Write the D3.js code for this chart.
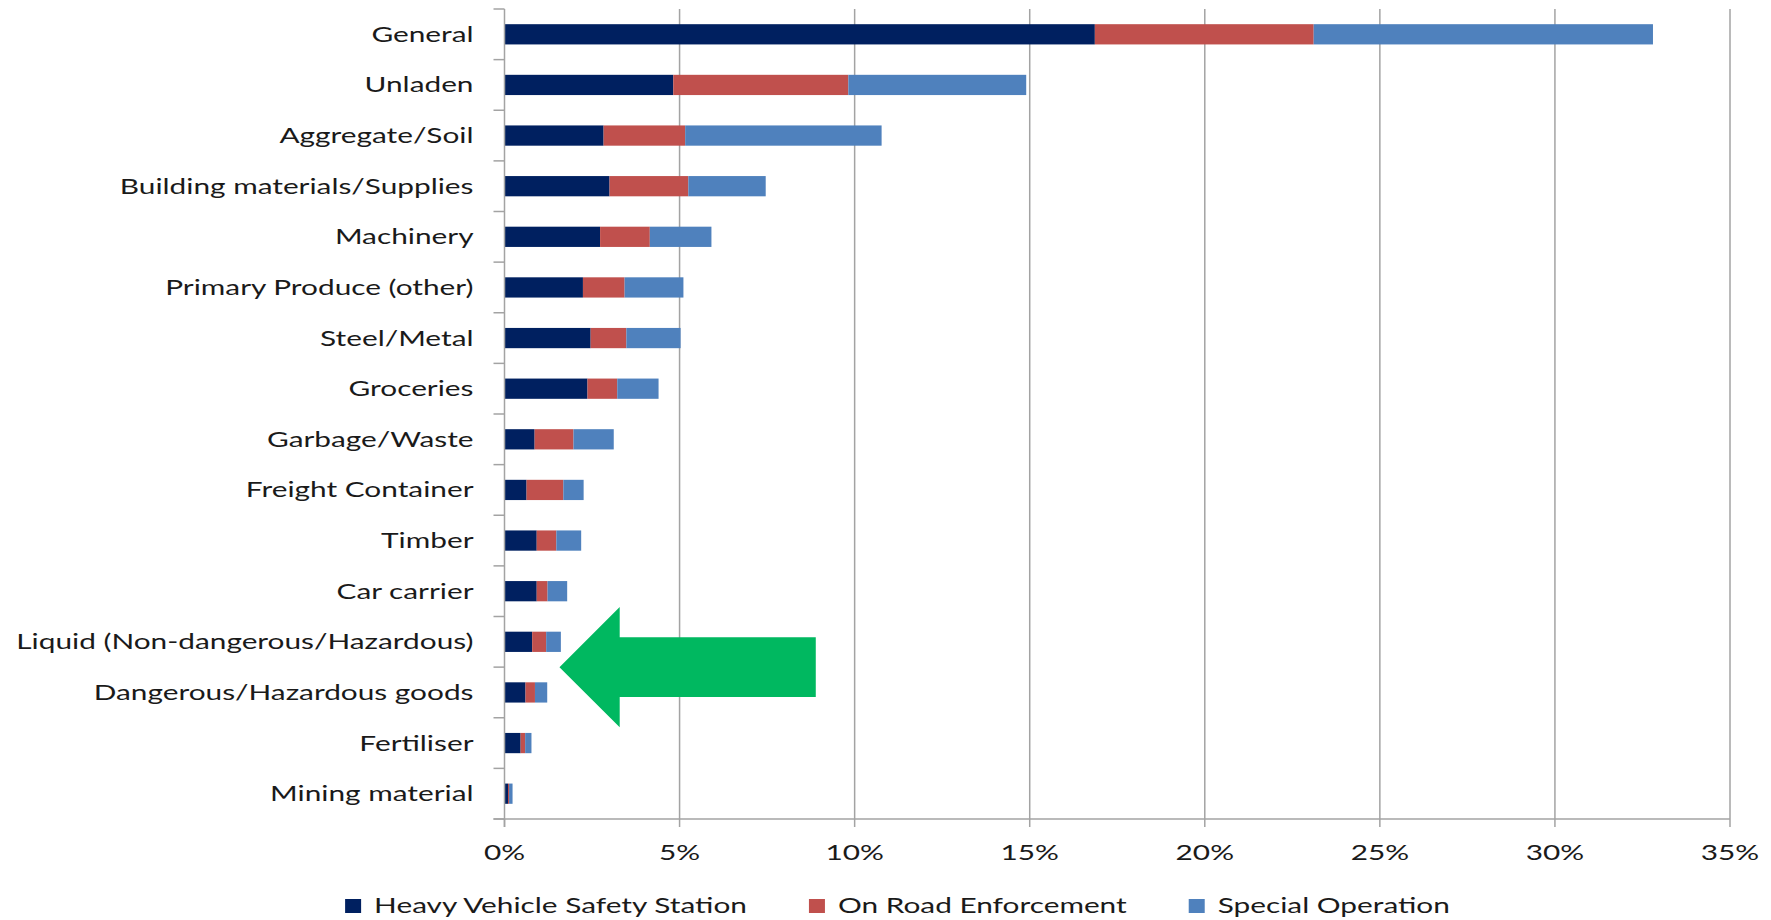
<!DOCTYPE html>
<html>
<head>
<meta charset="utf-8">
<script src="https://cdn.jsdelivr.net/npm/d3@7"></script>
<style>
  html, body { margin: 0; padding: 0; background: #ffffff; }
  svg { display: block; }
  text { font-family: Lato, "Open Sans", sans-serif; fill: #1a1a1a; }
</style>
</head>
<body>
<svg id="chart" width="1771" height="920"></svg>
<script>
// ---- data ----
const categories = [
  "General", "Unladen", "Aggregate/Soil", "Building materials/Supplies",
  "Machinery", "Primary Produce (other)", "Steel/Metal", "Groceries",
  "Garbage/Waste", "Freight Container", "Timber", "Car carrier",
  "Liquid (Non-dangerous/Hazardous)", "Dangerous/Hazardous goods",
  "Fertiliser", "Mining material"
];
const seriesNames = ["Heavy Vehicle Safety Station", "On Road Enforcement", "Special Operation"];
const heavyVehicleSafetyStation = [16.86, 4.82, 2.83, 3.00, 2.73, 2.24, 2.46, 2.37, 0.86, 0.63, 0.92, 0.92, 0.79, 0.60, 0.46, 0.10];
const onRoadEnforcement         = [ 6.25, 5.00, 2.33, 2.25, 1.42, 1.19, 1.02, 0.85, 1.11, 1.05, 0.56, 0.31, 0.40, 0.27, 0.13, 0.03];
const specialOperation          = [ 9.69, 5.08, 5.61, 2.21, 1.76, 1.68, 1.55, 1.18, 1.15, 0.58, 0.71, 0.56, 0.42, 0.35, 0.18, 0.10];
const xTickValues = [0, 5, 10, 15, 20, 25, 30, 35];
const xTickLabels = ["0%", "5%", "10%", "15%", "20%", "25%", "30%", "35%"];
// annotation arrow (x in %, pointing left between the Liquid and Dangerous rows)
const arrowTipX = 1.57, arrowHeadX = 3.29, arrowTailX = 8.89;

// ---- style ----
const colors = ["#002060", "#C0504D", "#4F81BD"];
const arrowColor = "#00B860";
const gridColor = "#a3a3a3";
const FONT = 21, SX = 1.42;

const svg = d3.select("#chart");
const plotLeft = 504.5, plotRight = 1730, plotTop = 9, plotBottom = 819;

const x = d3.scaleLinear().domain([0, 35]).range([plotLeft, plotRight]);
const y = d3.scaleBand().domain(categories).range([plotTop, plotBottom]).padding(0);
const bw = y.bandwidth();

// stacked data
const table = categories.map((c, i) => ({
  cat: c,
  [seriesNames[0]]: heavyVehicleSafetyStation[i],
  [seriesNames[1]]: onRoadEnforcement[i],
  [seriesNames[2]]: specialOperation[i]
}));
const stacked = d3.stack().keys(seriesNames)(table);

// gridlines
svg.append("g").selectAll("line")
  .data(xTickValues.filter(v => v > 0))
  .join("line")
  .attr("x1", d => x(d)).attr("x2", d => x(d))
  .attr("y1", plotTop).attr("y2", plotBottom)
  .attr("stroke", gridColor).attr("stroke-width", 1.5);

// bars
svg.append("g").selectAll("g")
  .data(stacked)
  .join("g")
  .attr("fill", (d, i) => colors[i])
  .selectAll("rect")
  .data(d => d)
  .join("rect")
  .attr("x", d => x(d[0]))
  .attr("width", d => Math.max(0, x(d[1]) - x(d[0])))
  .attr("y", d => y(d.data.cat) + bw * 0.3)
  .attr("height", bw * 0.4);

// y axis line + ticks at band boundaries
const yAxisG = svg.append("g");
yAxisG.append("line")
  .attr("x1", plotLeft).attr("x2", plotLeft).attr("y1", plotTop).attr("y2", plotBottom + 8)
  .attr("stroke", gridColor).attr("stroke-width", 1.5);
const boundaries = d3.range(categories.length + 1).map(i => plotTop + i * bw);
yAxisG.selectAll("line.tick")
  .data(boundaries)
  .join("line").attr("class", "tick")
  .attr("x1", plotLeft - 11).attr("x2", plotLeft)
  .attr("y1", d => d).attr("y2", d => d)
  .attr("stroke", gridColor).attr("stroke-width", 1.5);

// category labels
svg.append("g").selectAll("text")
  .data(categories)
  .join("text")
  .attr("transform", d => `translate(${plotLeft - 31},${y(d) + bw / 2 + 7.5}) scale(${SX},1)`)
  .attr("text-anchor", "end")
  .attr("font-size", FONT)
  .text(d => d);

// x axis
const xAxisG = svg.append("g");
xAxisG.append("line")
  .attr("x1", plotLeft - 11).attr("x2", plotRight).attr("y1", plotBottom).attr("y2", plotBottom)
  .attr("stroke", gridColor).attr("stroke-width", 1.5);
xAxisG.selectAll("line.tick")
  .data(xTickValues)
  .join("line").attr("class", "tick")
  .attr("x1", d => x(d)).attr("x2", d => x(d))
  .attr("y1", plotBottom).attr("y2", plotBottom + 8)
  .attr("stroke", gridColor).attr("stroke-width", 1.5);
xAxisG.selectAll("text")
  .data(xTickValues)
  .join("text")
  .attr("transform", (d) => `translate(${x(d)},${plotBottom + 41}) scale(${SX},1)`)
  .attr("text-anchor", "middle")
  .attr("font-size", FONT)
  .text((d, i) => xTickLabels[i]);

// arrow annotation
const yMid = y(categories[13]);
const headHalf = bw * 1.19, shaftHalf = bw * 0.59;
const arrowPts = [
  [x(arrowTipX), yMid],
  [x(arrowHeadX), yMid - headHalf],
  [x(arrowHeadX), yMid - shaftHalf],
  [x(arrowTailX), yMid - shaftHalf],
  [x(arrowTailX), yMid + shaftHalf],
  [x(arrowHeadX), yMid + shaftHalf],
  [x(arrowHeadX), yMid + headHalf]
];
svg.append("polygon")
  .attr("points", arrowPts.map(p => p.join(",")).join(" "))
  .attr("fill", arrowColor);

// legend
const legend = svg.append("g");
const items = legend.selectAll("g").data(seriesNames).join("g");
items.append("rect")
  .attr("width", 16).attr("height", 14)
  .attr("y", -14)
  .attr("fill", (d, i) => colors[i]);
items.append("text")
  .attr("transform", `translate(29,0) scale(${SX},1)`)
  .attr("font-size", FONT)
  .text(d => d);
let cursor = 0;
const positions = [];
items.each(function () {
  const t = d3.select(this).select("text").node();
  const w = t.getComputedTextLength() * SX;
  positions.push(cursor);
  cursor += 29 + w + 62;
});
const total = cursor - 62;
const startX = 897.5 - total / 2;
items.attr("transform", (d, i) => `translate(${startX + positions[i]},913)`);
</script>
</body>
</html>
